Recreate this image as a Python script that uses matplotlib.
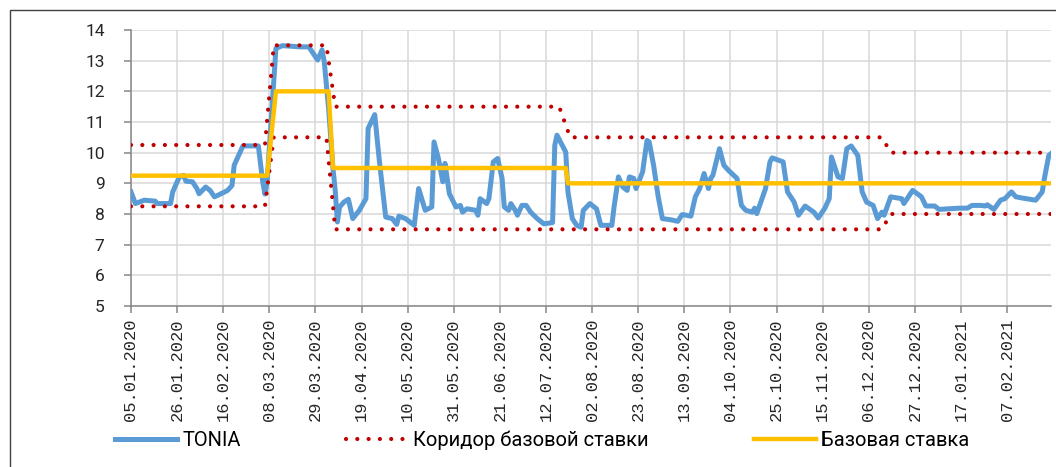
import pandas as pd
import matplotlib
matplotlib.use('Agg')
import matplotlib.pyplot as plt
import matplotlib.dates as mdates
from matplotlib.patches import Rectangle

tonia_dates = [
    '2020-01-05', '2020-01-07', '2020-01-11', '2020-01-16', '2020-01-17', '2020-01-23', '2020-01-24',
    '2020-01-27', '2020-01-29', '2020-01-30', '2020-02-02', '2020-02-04', '2020-02-05', '2020-02-08',
    '2020-02-10', '2020-02-12', '2020-02-15', '2020-02-18', '2020-02-20', '2020-02-21', '2020-02-23',
    '2020-02-25', '2020-03-03', '2020-03-05', '2020-03-06', '2020-03-07', '2020-03-11', '2020-03-14',
    '2020-03-22', '2020-03-26', '2020-03-30', '2020-04-01', '2020-04-02', '2020-04-04', '2020-04-06',
    '2020-04-07', '2020-04-08', '2020-04-09', '2020-04-11', '2020-04-13', '2020-04-15', '2020-04-18',
    '2020-04-21', '2020-04-22', '2020-04-25', '2020-04-27', '2020-04-30', '2020-05-03', '2020-05-05',
    '2020-05-06', '2020-05-09', '2020-05-13', '2020-05-15', '2020-05-18', '2020-05-21', '2020-05-22',
    '2020-05-24', '2020-05-26', '2020-05-27', '2020-05-29', '2020-06-01', '2020-06-03', '2020-06-04',
    '2020-06-06', '2020-06-10', '2020-06-11', '2020-06-12', '2020-06-15', '2020-06-16', '2020-06-18',
    '2020-06-20', '2020-06-22', '2020-06-23', '2020-06-25', '2020-06-26', '2020-06-28', '2020-06-29',
    '2020-07-01', '2020-07-03', '2020-07-05', '2020-07-08', '2020-07-11', '2020-07-15', '2020-07-16',
    '2020-07-17', '2020-07-21', '2020-07-22', '2020-07-24', '2020-07-26', '2020-07-28', '2020-07-29',
    '2020-08-01', '2020-08-04', '2020-08-06', '2020-08-11', '2020-08-12', '2020-08-14', '2020-08-16',
    '2020-08-18', '2020-08-19', '2020-08-21', '2020-08-22', '2020-08-25', '2020-08-27', '2020-08-28',
    '2020-08-30', '2020-09-01', '2020-09-03', '2020-09-07', '2020-09-10', '2020-09-12', '2020-09-14',
    '2020-09-16', '2020-09-18', '2020-09-20', '2020-09-22', '2020-09-24', '2020-09-25', '2020-09-26',
    '2020-09-29', '2020-10-01', '2020-10-03', '2020-10-07', '2020-10-09', '2020-10-11', '2020-10-14',
    '2020-10-15', '2020-10-16', '2020-10-20', '2020-10-22', '2020-10-23', '2020-10-28', '2020-10-30',
    '2020-11-02', '2020-11-04', '2020-11-07', '2020-11-11', '2020-11-13', '2020-11-16', '2020-11-18',
    '2020-11-19', '2020-11-22', '2020-11-24', '2020-11-26', '2020-11-28', '2020-12-01', '2020-12-03',
    '2020-12-05', '2020-12-08', '2020-12-10', '2020-12-12', '2020-12-13', '2020-12-16', '2020-12-21',
    '2020-12-22', '2020-12-26', '2020-12-30', '2021-01-01', '2021-01-05', '2021-01-07', '2021-01-16',
    '2021-01-18', '2021-01-20', '2021-01-22', '2021-01-26', '2021-01-28', '2021-01-29', '2021-02-01',
    '2021-02-04', '2021-02-06', '2021-02-09', '2021-02-11', '2021-02-14', '2021-02-20', '2021-02-23',
    '2021-02-24', '2021-02-26', '2021-02-27',
]
tonia_values = [
    8.72, 8.34, 8.45, 8.42, 8.34, 8.34, 8.72,
    9.21, 9.26, 9.07, 9.05, 8.83, 8.66, 8.88,
    8.77, 8.56, 8.66, 8.77, 8.93, 9.59, 9.91,
    10.22, 10.22, 9.05, 8.65, 9.05, 13.40, 13.49,
    13.45, 13.45, 13.02, 13.35, 12.97, 11.44, 9.48,
    8.77, 7.74, 8.23, 8.39, 8.48, 7.85, 8.12,
    8.50, 10.79, 11.24, 9.81, 7.90, 7.85, 7.66,
    7.93, 7.85, 7.63, 8.83, 8.12, 8.23, 10.35,
    9.81, 9.05, 9.65, 8.66, 8.23, 8.28, 8.06,
    8.17, 8.12, 7.96, 8.50, 8.34, 8.50, 9.70,
    9.81, 9.16, 8.23, 8.12, 8.34, 8.12, 7.96,
    8.28, 8.28, 8.06, 7.85, 7.68, 7.72, 10.24,
    10.57, 10.02, 8.72, 7.85, 7.63, 7.57, 8.12,
    8.34, 8.17, 7.63, 7.63, 8.23, 9.21, 8.88,
    8.77, 9.21, 9.16, 8.83, 9.37, 10.40, 10.35,
    9.59, 8.61, 7.85, 7.81, 7.76, 7.98, 7.96,
    7.93, 8.56, 8.83, 9.32, 8.83, 9.16, 9.26,
    10.13, 9.59, 9.43, 9.16, 8.28, 8.12, 8.06,
    8.19, 8.01, 8.83, 9.70, 9.83, 9.70, 8.72,
    8.39, 7.96, 8.26, 8.06, 7.87, 8.19, 8.50,
    9.86, 9.21, 9.16, 10.13, 10.22, 9.91, 8.72,
    8.39, 8.28, 7.85, 8.06, 7.96, 8.56, 8.50,
    8.34, 8.77, 8.56, 8.26, 8.26, 8.15, 8.19,
    8.19, 8.19, 8.28, 8.28, 8.26, 8.30, 8.15,
    8.45, 8.50, 8.72, 8.56, 8.52, 8.45, 8.72,
    9.16, 9.91, 9.97,
]

corridor_dates = ['2020-01-05', '2020-03-06', '2020-03-10', '2020-04-03', '2020-04-07',
                  '2020-07-18', '2020-07-23', '2020-12-12', '2020-12-16', '2021-02-27']
corridor_upper = [10.25, 10.25, 13.5, 13.5, 11.5, 11.5, 10.5, 10.5, 10.0, 10.0]
corridor_lower = [8.25, 8.25, 10.5, 10.5, 7.5, 7.5, 7.5, 7.5, 8.0, 8.0]

base_dates = ['2020-01-05', '2020-03-07', '2020-03-11', '2020-04-04', '2020-04-06',
              '2020-07-21', '2020-07-22', '2021-02-27']
base_values = [9.25, 9.25, 12.0, 12.0, 9.5, 9.5, 9.0, 9.0]

labels = ['TONIA', 'Коридор базовой ставки', 'Базовая ставка']

fonts = ['Roboto', 'DejaVu Sans']
dots = (0, (0.01, 2.7))

fig = plt.figure(figsize=(10.56, 4.67), dpi=100)
fig.subplots_adjust(left=131 / 1056, right=1051 / 1056, bottom=1 - 306 / 467, top=1 - 30 / 467)
ax = fig.add_subplot(111)

l1, = ax.plot(pd.to_datetime(tonia_dates), tonia_values, color='#5B9BD5', lw=3.6,
              solid_joinstyle='round', zorder=3)
l2, = ax.plot(pd.to_datetime(corridor_dates), corridor_upper, color='#C00000', lw=3,
              linestyle=dots, dash_capstyle='round', zorder=4)
ax.plot(pd.to_datetime(corridor_dates), corridor_lower, color='#C00000', lw=3,
        linestyle=dots, dash_capstyle='round', zorder=4)
l3, = ax.plot(pd.to_datetime(base_dates), base_values, color='#FFC000', lw=3.2, zorder=5)

ax.set_xlim(pd.Timestamp('2020-01-05'), pd.Timestamp('2021-02-27'))
ax.set_ylim(5, 14)
ax.set_yticks(range(5, 15))
ax.set_xticks(pd.date_range('2020-01-05', periods=20, freq='21D'))
ax.xaxis.set_major_formatter(mdates.DateFormatter('%d.%m.%Y'))

ax.grid(True, color='#D9D9D9', lw=1.1)
ax.set_axisbelow(True)
for s in ['top', 'right']:
    ax.spines[s].set_visible(False)
for s in ['left', 'bottom']:
    ax.spines[s].set_color('#868686')
    ax.spines[s].set_linewidth(1.1)

ax.tick_params(axis='both', colors='#868686', length=5, width=1.1, labelcolor='#262626')
ax.tick_params(axis='y', pad=14)
ax.tick_params(axis='x', pad=4)
for t in ax.get_yticklabels():
    t.set_fontfamily(fonts)
    t.set_fontsize(12.5)
for t in ax.get_xticklabels():
    t.set_fontfamily(['Liberation Mono', 'DejaVu Sans Mono'])
    t.set_fontsize(12.3)
    t.set_rotation(90)

fig.legend([l1, l2, l3], labels, loc='center left', bbox_to_anchor=(115 / 1056, 1 - 440 / 467),
           ncol=3, frameon=False, borderpad=0, borderaxespad=0, handlelength=3.1,
           handletextpad=0.25, columnspacing=5.2,
           prop={'family': fonts, 'size': 14.5})

fig.add_artist(Rectangle((10 / 1056, -0.5), 2, 1.5 - 10 / 467, transform=fig.transFigure,
                         fill=False, edgecolor='#404040', lw=1))

plt.savefig('out.png', dpi=100)
